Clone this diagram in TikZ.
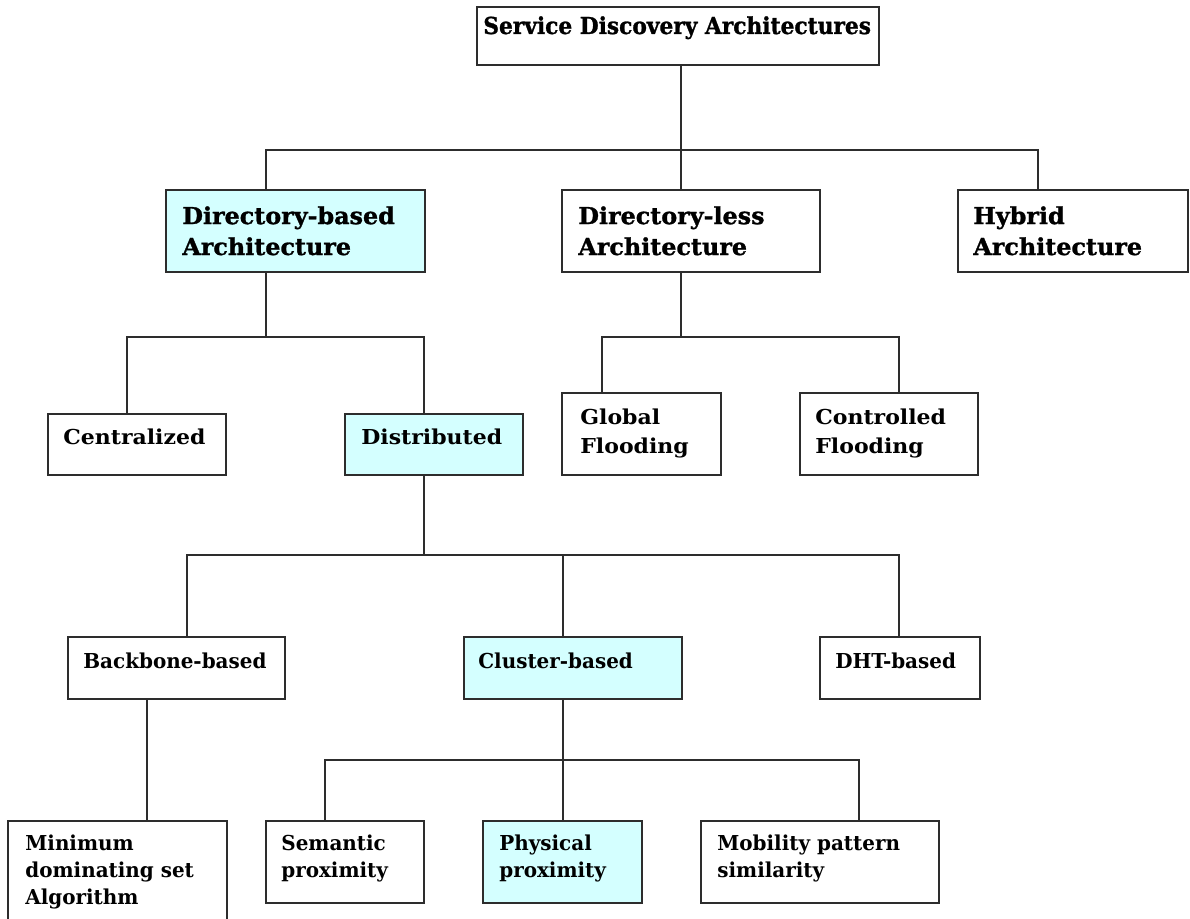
\documentclass[tikz,border=0pt]{standalone}
\usepackage{fontspec}
\usetikzlibrary{fit}
\setmainfont{DejaVu Serif}
\newfontfamily\rootfont{DejaVu Serif}[UprightFont=* Bold, FakeStretch=0.93, FakeBold=1.2]
\newfontfamily\heavyfont{DejaVu Serif}[UprightFont=* Bold, FakeStretch=1.02, FakeBold=1.2]
\newfontfamily\midfont{DejaVu Serif}[UprightFont=* Bold, FakeStretch=1.07]
\newfontfamily\lowfont{DejaVu Serif}[UprightFont=* Bold, FakeStretch=0.97]
\definecolor{wirec}{RGB}{45,45,45}
\definecolor{cyanfill}{RGB}{212,255,255}
\tikzset{
  box/.style={draw=wirec, line width=0.04cm, inner sep=0pt, fill=white},
  hlbox/.style={box, fill=cyanfill},
  wire/.style={draw=wirec, line width=0.04cm},
  % labels are anchored at the baseline of their last line
  rootlbl/.style={anchor=base west, inner sep=0pt, align=left,
    font=\rootfont\fontsize{13.3}{17.6}\selectfont},
  headlbl/.style={anchor=base west, inner sep=0pt, align=left,
    font=\heavyfont\fontsize{13.3}{17.6}\selectfont},
  midlbl/.style={anchor=base west, inner sep=0pt, align=left,
    font=\midfont\fontsize{11.7}{16.5}\selectfont},
  lowlbl/.style={anchor=base west, inner sep=0pt, align=left,
    font=\lowfont\fontsize{11.7}{15.1}\selectfont},
}
\begin{document}
\begin{tikzpicture}[x=0.02cm, y=-0.02cm]
\useasboundingbox (0,0) rectangle (1190,919);

% ---- boxes ----
\node[box,   fit={(477,7) (879,65)}]     (root)  {};
\node[hlbox, fit={(166,190) (425,272)}]  (dir)   {};
\node[box,   fit={(562,190) (820,272)}]  (dless) {};
\node[box,   fit={(958,190) (1188,272)}] (hyb)   {};
\node[box,   fit={(48,414) (226,475)}]   (cen)   {};
\node[hlbox, fit={(345,414) (523,475)}]  (dist)  {};
\node[box,   fit={(562,393) (721,475)}]  (glob)  {};
\node[box,   fit={(800,393) (978,475)}]  (ctrl)  {};
\node[box,   fit={(68,637) (285,699)}]   (bb)    {};
\node[hlbox, fit={(464,637) (682,699)}]  (cl)    {};
\node[box,   fit={(820,637) (980,699)}]  (dht)   {};
\node[box,   fit={(8,821) (227,930)}]    (mds)   {};
\node[box,   fit={(266,821) (424,903)}]  (sem)   {};
\node[hlbox, fit={(483,821) (642,903)}]  (phy)   {};
\node[box,   fit={(701,821) (939,903)}]  (mob)   {};

% ---- labels ----
\node[rootlbl] (tRoot)  at (483,34)  {Service Discovery Architectures};
\node[headlbl] (tDir)   at (182,255) {Directory-based\\Architecture};
\node[headlbl] (tDless) at (578,255) {Directory-less\\Architecture};
\node[headlbl] (tHyb)   at (973,255) {Hybrid\\Architecture};
\node[midlbl]  (tCen)   at (63,444)  {Centralized};
\node[midlbl]  (tDist)  at (361,444) {Distributed};
\node[midlbl]  (tGlob)  at (580,453) {Global\\Flooding};
\node[midlbl]  (tCtrl)  at (815,453) {Controlled\\Flooding};
\node[lowlbl]  (tBb)    at (83,668)  {Backbone-based};
\node[lowlbl]  (tCl)    at (478,668) {Cluster-based};
\node[lowlbl]  (tDht)   at (835,668) {DHT-based};
\node[lowlbl]  (tMds)   at (25,904)  {Minimum\\dominating set\\Algorithm};
\node[lowlbl]  (tSem)   at (281,877) {Semantic\\proximity};
\node[lowlbl]  (tPhy)   at (499,877) {Physical\\proximity};
\node[lowlbl]  (tMob)   at (717,877) {Mobility pattern\\similarity};

% ---- junction points of the tree ----
\coordinate (j1)  at (681,150);
\coordinate (j1l) at (266,150);
\coordinate (j1r) at (1038,150);
\coordinate (j2)  at (266,337);
\coordinate (j2l) at (127,337);
\coordinate (j2r) at (424,337);
\coordinate (j3)  at (681,337);
\coordinate (j3l) at (602,337);
\coordinate (j3r) at (899,337);
\coordinate (j4)  at (424,555);
\coordinate (j4l) at (187,555);
\coordinate (j4m) at (563,555);
\coordinate (j4r) at (899,555);
\coordinate (j5)  at (147,760);
\coordinate (j6)  at (563,760);
\coordinate (j6l) at (325,760);
\coordinate (j6r) at (859,760);

% ---- connectors ----
\draw[wire] (root.south -| j1) -- (dless.north -| j1);
\draw[wire] (dir.north -| j1l) -- (j1l) -- (j1r) -- (hyb.north -| j1r);

\draw[wire] (dir.south -| j2) -- (j2);
\draw[wire] (cen.north -| j2l) -- (j2l) -- (j2r) -- (dist.north -| j2r);

\draw[wire] (dless.south -| j3) -- (j3);
\draw[wire] (glob.north -| j3l) -- (j3l) -- (j3r) -- (ctrl.north -| j3r);

\draw[wire] (dist.south -| j4) -- (j4);
\draw[wire] (bb.north -| j4l) -- (j4l) -- (j4r) -- (dht.north -| j4r);
\draw[wire] (j4m) -- (cl.north -| j4m);

\draw[wire] (bb.south -| j5) -- (mds.north -| j5);

\draw[wire] (cl.south -| j6) -- (phy.north -| j6);
\draw[wire] (sem.north -| j6l) -- (j6l) -- (j6r) -- (mob.north -| j6r);
\end{tikzpicture}
\end{document}
